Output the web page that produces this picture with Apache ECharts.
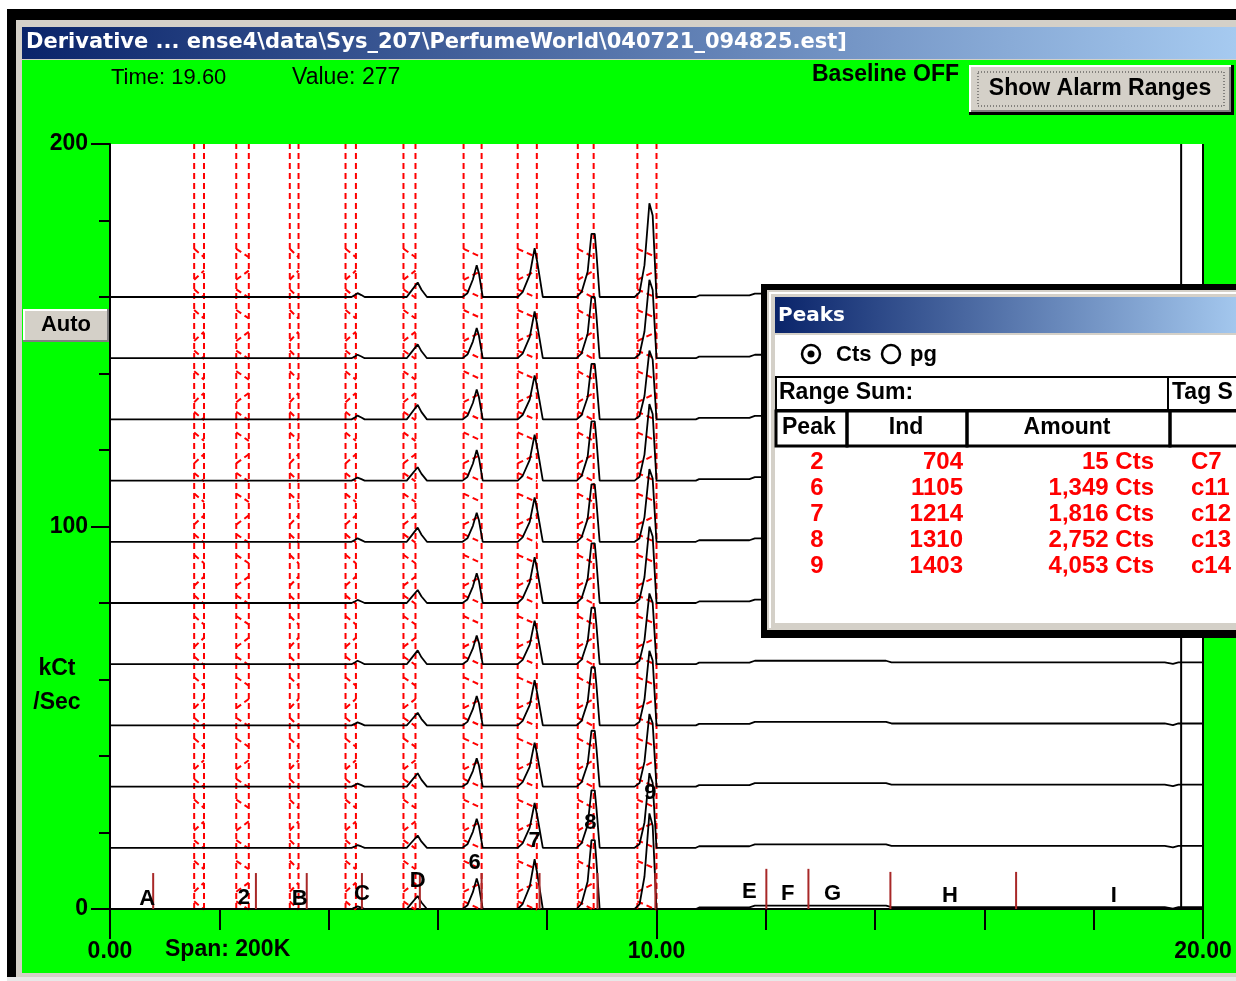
<!DOCTYPE html>
<html><head><meta charset="utf-8">
<script src="https://cdn.jsdelivr.net/npm/echarts@6/dist/echarts.min.js"></script>
<style>html,body{margin:0;padding:0;background:#fff}#c{width:1236px;height:981px}</style>
</head><body><div id="c"></div><script>
// ---------- data ----------
const traceOffsets = [160,144,128,112,96,80,64,48,32,16,0];
const peakTimes = [
  [4.42,4.48,4.53,4.60,4.66],
  [5.43,5.50,5.63,5.70,5.80],
  [6.45,6.54,6.64,6.71,6.75,6.82],
  [7.46,7.55,7.68,7.77,7.82,7.92],
  [8.54,8.63,8.74,8.81,8.87,8.90,8.96],
  [9.60,9.69,9.78,9.87,9.93,10.00]
];
const peakFractions = [
  [0,0.5,1,0.5,0],
  [0,0.35,1,0.5,0],
  [0,0.12,0.55,1,0.75,0],
  [0,0.10,0.45,1,0.70,0],
  [0,0.08,0.40,1,1,0.70,0],
  [0,0.05,0.34,1,0.87,0]
];
const apexC = [1.0,0.9,1.0,0.8,0.9,0.8,0.9,0.8,0.8,0.7,0.7];
const apexD = [3.8,3.6,3.8,3.5,3.7,3.4,3.6,3.3,3.5,3.2,3.4];
const apex6 = [8.3,7.9,7.8,8.0,7.6,7.8,7.5,7.7,7.4,7.6,8.0];
const apex7 = [12.8,12.2,11.5,12.0,11.6,12.0,11.4,11.8,11.5,11.7,13.0];
const apex8 = [16.5,16.0,14.5,15.5,15.0,15.6,14.8,15.2,14.6,15.0,18.0];
const apex9 = [24.5,20.5,18.0,20.0,19.0,20.0,18.5,19.5,19.0,19.5,25.0];
const driftTimes  = [10.05,10.72,10.78,11.70,11.80,14.20,14.30,19.30,19.45,19.55,20.00];
const driftLevels = [0,0,0.4,0.4,0.9,0.9,0.5,0.5,0.1,0.5,0.5];
const windowStart = [1.54,2.31,3.29,4.31,5.37,6.47,7.46,8.56,9.65];
const windowEnd   = [1.72,2.54,3.45,4.50,5.59,6.80,7.81,8.85,10.00];
const hookLevels  = [0.4,5.5,11.0];
const markerTimes = [0.79,2.67,3.60,4.61,5.67,6.80,7.86,8.92,9.98,12.01,12.78,14.28,16.58];
const markerTops  = [9.4,9.4,9.4,9.4,9.4,9.4,9.4,9.4,9.4,10.5,10.5,9.7,9.7];
const labelNames = ['A','2','B','C','D','6','7','8','9','E','F','G','H','I'];
const labelTimes = [0.68,2.45,3.47,4.61,5.63,6.67,7.77,8.79,9.89,11.70,12.40,13.22,15.37,18.37];
const labelLevels= [2.6,2.9,2.6,3.9,7.3,12.1,17.8,22.5,30.4,4.5,3.9,3.9,3.4,3.4];
const cursorTime = 19.60;
const xTickLabels = ['0.00','10.00','20.00'];
const tablePeak = ['2','6','7','8','9'];
const tableInd = ['704','1105','1214','1310','1403'];
const tableAmount = ['15 Cts','1,349 Cts','1,816 Cts','2,752 Cts','4,053 Cts'];
const tableTag = ['C7','c11','c12','c13','c14'];

// ---------- build ----------
const apexAll = [apexC,apexD,apex6,apex7,apex8,apex9];
function buildTrace(k){
  const b = traceOffsets[k]; const pts=[[0,b]];
  peakTimes.forEach((ts,p)=>ts.forEach((t,i)=>pts.push([t, b+peakFractions[p][i]*apexAll[p][k]])));
  driftTimes.forEach((t,i)=>pts.push([t, b+driftLevels[i]]));
  return pts;
}
const redSegs = [];
windowStart.forEach((xs,w)=>{
  const xe = windowEnd[w];
  redSegs.push([xs,0,xs,200]); redSegs.push([xe,0,xe,200]);
  traceOffsets.forEach(b=>{
    hookLevels.forEach((h,j)=>{
      if (j%2===0) redSegs.push([xs,b+h+1.6,xe,b+h-0.6]);
      else redSegs.push([xs,b+h-1.0,xe,b+h+1.4]);
    });
  });
});
const brownSegs = markerTimes.map((t,i)=>[t,0,t,markerTops[i]]);
const blackSegs = [[cursorTime,0,cursorTime,200],[20,0,20,200]];

function segSeries(data,color,width,dash,z){
  return {type:'custom',coordinateSystem:'cartesian2d',data:data,silent:true,z:z,clip:false,
    encode:{x:[0,2],y:[1,3]},
    renderItem:(params,api)=>{
      const p1=api.coord([api.value(0),api.value(1)]);
      const p2=api.coord([api.value(2),api.value(3)]);
      return {type:'line',shape:{x1:p1[0],y1:p1[1],x2:p2[0],y2:p2[1]},
        style:{stroke:color,lineWidth:width,lineDash:dash||null}};
    }};
}

const series = [];
series.push(segSeries(redSegs,'#ff0000',2,[6,4],2));
traceOffsets.forEach((b,k)=>{
  series.push({type:'line',data:buildTrace(k),showSymbol:false,symbol:'none',silent:true,z:3,
    lineStyle:{color:'#000',width:1.8},animation:false});
});
series.push(segSeries(brownSegs,'#a82828',2,null,4));
series.push(segSeries(blackSegs,'#000',2,null,4));
series.push({type:'custom',coordinateSystem:'cartesian2d',silent:true,z:6,clip:false,
  data:labelNames.map((n,i)=>[labelTimes[i],labelLevels[i],i]),
  encode:{x:0,y:1},
  renderItem:(params,api)=>{
    const p=api.coord([api.value(0),api.value(1)]);
    return {type:'text',style:{x:p[0],y:p[1],text:labelNames[api.value(2)],fill:'#000',
      font:'bold 22px "Liberation Sans"',textAlign:'center',textVerticalAlign:'middle'}};
  }});

const F='Liberation Sans';
const G=[];
// window chrome (background)
G.push({type:'rect',z:-10,shape:{x:7,y:9,width:1240,height:972},style:{fill:'#000'}});
G.push({type:'rect',z:-9,shape:{x:16,y:20,width:1230,height:957},style:{fill:'#d4d0c8'}});
G.push({type:'rect',z:-8,shape:{x:22,y:60,width:1220,height:913},style:{fill:'#00ff00'}});
G.push({type:'rect',z:-9,shape:{x:7,y:977,width:1240,height:4},style:{fill:'#e8e8e8'}});
G.push({type:'rect',z:-8,shape:{x:22,y:27,width:1214,height:32},style:{fill:new echarts.graphic.LinearGradient(0,0,1,0,[{offset:0,color:'#0a246a'},{offset:1,color:'#a6caf0'}])}});
G.push({type:'rect',z:-7,shape:{x:111,y:144,width:1092,height:764},style:{fill:'#fff'}});
G.push({type:'text',z:-5,style:{x:26,y:43,text:'Derivative ... ense4\\data\\Sys_207\\PerfumeWorld\\040721_094825.est]',fill:'#fff',font:'bold 21px "DejaVu Sans"',textVerticalAlign:'middle'}});
G.push({type:'text',z:-5,style:{x:111,y:78,text:'Time: 19.60',fill:'#000',font:'22px "Liberation Sans"',textVerticalAlign:'middle'}});
G.push({type:'text',z:-5,style:{x:292,y:78,text:'Value: 277',fill:'#000',font:'23px "Liberation Sans"',textVerticalAlign:'middle'}});
G.push({type:'text',z:-5,style:{x:812,y:75,text:'Baseline OFF',fill:'#000',font:'bold 23px "Liberation Sans"',textVerticalAlign:'middle'}});
G.push({type:'text',z:-5,style:{x:165,y:950,text:'Span: 200K',fill:'#000',font:'bold 23px "Liberation Sans"',textVerticalAlign:'middle'}});
G.push({type:'text',z:-5,style:{x:57,y:669,text:'kCt',fill:'#000',font:'bold 23px "Liberation Sans"',textAlign:'center',textVerticalAlign:'middle'}});
G.push({type:'text',z:-5,style:{x:57,y:703,text:'/Sec',fill:'#000',font:'bold 23px "Liberation Sans"',textAlign:'center',textVerticalAlign:'middle'}});
// Show Alarm Ranges button
G.push({type:'rect',z:50,shape:{x:969,y:65,width:265,height:50},style:{fill:'#000'}});
G.push({type:'rect',z:51,shape:{x:969,y:65,width:262,height:47},style:{fill:'#fff'}});
G.push({type:'rect',z:52,shape:{x:971,y:67,width:260,height:45},style:{fill:'#808080'}});
G.push({type:'rect',z:53,shape:{x:971,y:67,width:258,height:43},style:{fill:'#d4d0c8'}});
G.push({type:'rect',z:54,shape:{x:978,y:72,width:246,height:34},style:{fill:null,stroke:'#333',lineWidth:1,lineDash:[1,2]}});
G.push({type:'text',z:55,style:{x:1100,y:89,text:'Show Alarm Ranges',fill:'#000',font:'bold 23px "Liberation Sans"',textAlign:'center',textVerticalAlign:'middle'}});
// Auto button
G.push({type:'rect',z:50,shape:{x:23,y:309,width:86,height:33},style:{fill:'#808080'}});
G.push({type:'rect',z:51,shape:{x:23,y:309,width:84,height:31},style:{fill:'#fff'}});
G.push({type:'rect',z:52,shape:{x:25,y:311,width:82,height:29},style:{fill:'#d4d0c8'}});
G.push({type:'text',z:55,style:{x:66,y:325,text:'Auto',fill:'#000',font:'bold 22px "Liberation Sans"',textAlign:'center',textVerticalAlign:'middle'}});
// Peaks panel
G.push({type:'rect',z:60,shape:{x:761,y:284,width:500,height:354},style:{fill:'#000'}});
G.push({type:'rect',z:61,shape:{x:767,y:290,width:490,height:340},style:{fill:'#d4d0c8'}});
G.push({type:'rect',z:62,shape:{x:769,y:292,width:490,height:2},style:{fill:'#fff'}});
G.push({type:'rect',z:62,shape:{x:769,y:292,width:2,height:336},style:{fill:'#fff'}});
G.push({type:'rect',z:62,shape:{x:775,y:297,width:470,height:36},style:{fill:new echarts.graphic.LinearGradient(0,0,1,0,[{offset:0,color:'#0a246a'},{offset:1,color:'#a6caf0'}])}});
G.push({type:'text',z:63,style:{x:778,y:316,text:'Peaks',fill:'#fff',font:'bold 20px "DejaVu Sans"',textVerticalAlign:'middle'}});
G.push({type:'rect',z:62,shape:{x:775,y:335,width:470,height:288},style:{fill:'#fff'}});
G.push({type:'circle',z:63,shape:{cx:811,cy:354,r:9},style:{fill:'#fff',stroke:'#000',lineWidth:2.5}});
G.push({type:'circle',z:64,shape:{cx:811,cy:354,r:3.5},style:{fill:'#000'}});
G.push({type:'text',z:63,style:{x:836,y:355,text:'Cts',fill:'#000',font:'bold 22px "Liberation Sans"',textVerticalAlign:'middle'}});
G.push({type:'circle',z:63,shape:{cx:891,cy:354,r:9},style:{fill:'#fff',stroke:'#000',lineWidth:2.5}});
G.push({type:'text',z:63,style:{x:910,y:355,text:'pg',fill:'#000',font:'bold 22px "Liberation Sans"',textVerticalAlign:'middle'}});
G.push({type:'rect',z:63,shape:{x:776,y:377,width:392,height:33},style:{fill:null,stroke:'#000',lineWidth:2}});
G.push({type:'rect',z:63,shape:{x:1168,y:377,width:100,height:33},style:{fill:null,stroke:'#000',lineWidth:2}});
G.push({type:'text',z:64,style:{x:779,y:393,text:'Range Sum:',fill:'#000',font:'bold 23px "Liberation Sans"',textVerticalAlign:'middle'}});
G.push({type:'text',z:64,style:{x:1172,y:393,text:'Tag S',fill:'#000',font:'bold 23px "Liberation Sans"',textVerticalAlign:'middle'}});
[[776,847],[847,967],[967,1170],[1170,1270]].forEach(c=>{
  G.push({type:'rect',z:63,shape:{x:c[0],y:411,width:c[1]-c[0],height:35},style:{fill:null,stroke:'#000',lineWidth:3}});
});
G.push({type:'text',z:64,style:{x:782,y:428,text:'Peak',fill:'#000',font:'bold 23px "Liberation Sans"',textVerticalAlign:'middle'}});
G.push({type:'text',z:64,style:{x:906,y:428,text:'Ind',fill:'#000',font:'bold 23px "Liberation Sans"',textAlign:'center',textVerticalAlign:'middle'}});
G.push({type:'text',z:64,style:{x:1067,y:428,text:'Amount',fill:'#000',font:'bold 23px "Liberation Sans"',textAlign:'center',textVerticalAlign:'middle'}});
tablePeak.forEach((p,i)=>{
  const y = 462 + i*26;
  const st = {fill:'#ff0000',font:'bold 24px "Liberation Sans"',textVerticalAlign:'middle'};
  G.push({type:'text',z:64,style:Object.assign({x:817,y:y,text:p,textAlign:'center'},st)});
  G.push({type:'text',z:64,style:Object.assign({x:963,y:y,text:tableInd[i],textAlign:'right'},st)});
  G.push({type:'text',z:64,style:Object.assign({x:1154,y:y,text:tableAmount[i],textAlign:'right'},st)});
  G.push({type:'text',z:64,style:Object.assign({x:1191,y:y,text:tableTag[i],textAlign:'left'},st)});
});

const chart = echarts.init(document.getElementById('c'),null,{renderer:'canvas'});
chart.setOption({
  animation:false,
  backgroundColor:'#ffffff',
  grid:{left:110,top:144,width:1093,height:765,containLabel:false,show:false},
  xAxis:{type:'value',min:0,max:20,interval:10,
    axisLine:{show:true,onZero:false,lineStyle:{color:'#000',width:2}},
    axisTick:{show:true,length:30,lineStyle:{color:'#000',width:2}},
    minorTick:{show:true,splitNumber:5,length:21,lineStyle:{color:'#000',width:2}},
    splitLine:{show:false},
    axisLabel:{margin:31,color:'#000',fontSize:23,fontWeight:'bold',fontFamily:F,
      formatter:v=>xTickLabels[Math.round(v/10)],showMinLabel:true,showMaxLabel:true}},
  yAxis:{type:'value',min:0,max:200,interval:100,
    axisLine:{show:true,onZero:false,lineStyle:{color:'#000',width:2}},
    axisTick:{show:true,length:19,lineStyle:{color:'#000',width:2}},
    minorTick:{show:true,splitNumber:5,length:11,lineStyle:{color:'#000',width:2}},
    splitLine:{show:false},
    axisLabel:{margin:22,color:'#000',fontSize:23,fontWeight:'bold',fontFamily:F,padding:[0,0,10,0]}},
  graphic:G,
  series:series
});
</script></body></html>
